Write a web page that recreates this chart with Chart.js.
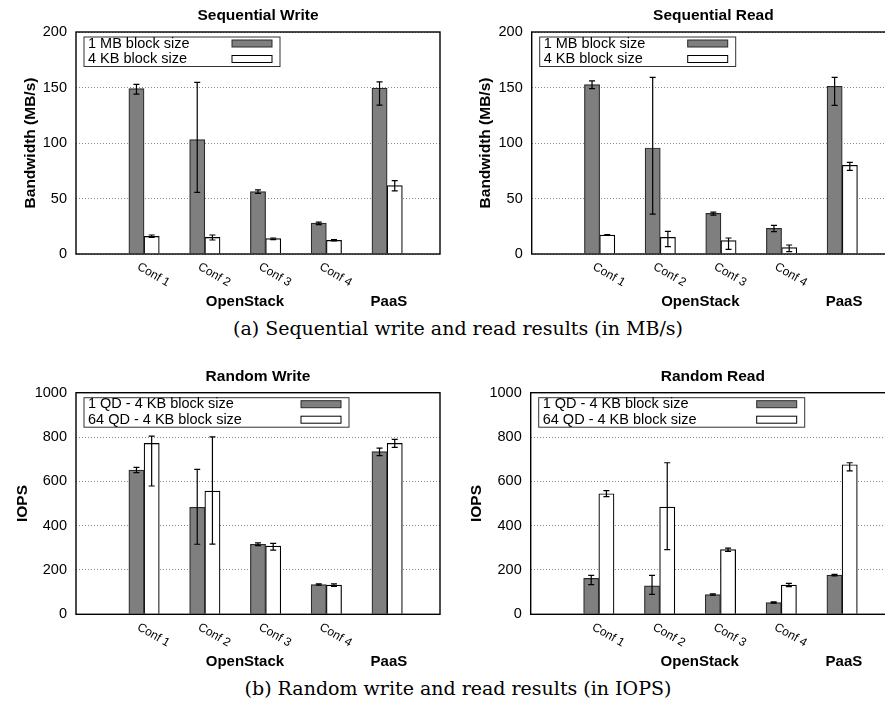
<!DOCTYPE html>
<html>
<head>
<meta charset="utf-8">
<title>Sequential and random I/O results</title>
<script src="https://cdn.jsdelivr.net/npm/chart.js@4.4.1/dist/chart.umd.min.js"></script>
<style>
    html, body { margin: 0; padding: 0; background: #fff; }
    #page { position: relative; width: 885px; height: 704px; overflow: hidden; }
    .panel { position: absolute; }
    .caption {
        position: absolute; left: 0; width: 916px; text-align: center;
        font-family: "DejaVu Serif", serif; font-size: 19px; color: #000; white-space: nowrap;
    }
</style>
</head>
<body>
<div id="page">
    <div class="panel" style="left:0;top:0"><canvas id="seq-write" width="445" height="315"></canvas></div>
    <div class="panel" style="left:445px;top:0"><canvas id="seq-read" width="460" height="315"></canvas></div>
    <div class="caption" style="top:317px">(a) Sequential write and read results (in MB/s)</div>
    <div class="panel" style="left:0;top:350px"><canvas id="rand-write" width="445" height="320"></canvas></div>
    <div class="panel" style="left:445px;top:350px"><canvas id="rand-read" width="460" height="320"></canvas></div>
    <div class="caption" style="top:677px">(b) Random write and read results (in IOPS)</div>
</div>
<script>
// Categories (x positions 0..4) and group labels under the axis
const categories = ['Conf 1', 'Conf 2', 'Conf 3', 'Conf 4', 'PaaS'];
const tickLabels = ['Conf 1', 'Conf 2', 'Conf 3', 'Conf 4'];
const groupLabels = ['OpenStack', 'PaaS'];
const groupPositions = [1.66, 4.03];

// Sequential write (MB/s)
const seqWrite1MB     = [149, 103, 56.2, 27.9, 149.5];
const seqWrite1MBLow  = [144.1, 55.6, 54.7, 26.4, 134.2];
const seqWrite1MBHigh = [152.9, 154.7, 57.7, 28.8, 155];
const seqWrite4KB     = [15.9, 15, 13.8, 12.3, 61.6];
const seqWrite4KBLow  = [15, 12.6, 12.9, 11.7, 56.8];
const seqWrite4KBHigh = [17.1, 17.1, 14.4, 12.9, 66.1];

// Sequential read (MB/s)
const seqRead1MB     = [152.6, 95.5, 36.6, 23.1, 151.1];
const seqRead1MBLow  = [148.9, 36, 35.1, 20.1, 133.9];
const seqRead1MBHigh = [155.9, 159.2, 37.8, 25.8, 159.2];
const seqRead4KB     = [17.1, 15, 12, 5.7, 79.9];
const seqRead4KBLow  = [16.7, 6.6, 4.2, 2.1, 75.4];
const seqRead4KBHigh = [17.5, 20.4, 14.4, 8.1, 82.6];

// Random write (IOPS)
const randWrite1QD      = [651, 483, 316, 134, 734];
const randWrite1QDLow   = [639, 316, 310, 131, 716];
const randWrite1QDHigh  = [663, 654, 322, 137, 750];
const randWrite64QD     = [771, 556, 308, 132, 771];
const randWrite64QDLow  = [579, 317, 290, 126, 753];
const randWrite64QDHigh = [804, 801, 320, 137, 789];

// Random read (IOPS)
const randRead1QD      = [162, 128, 89, 53, 177];
const randRead1QDLow   = [134, 90, 86, 50, 173];
const randRead1QDHigh  = [176, 176, 92, 56, 180];
const randRead64QD     = [544, 484, 292, 132, 675];
const randRead64QDLow  = [531, 292, 284, 125, 647];
const randRead64QDHigh = [558, 684, 299, 140, 684];

const mbTicks = [0, 200, 50];     // min, max, step
const iopsTicks = [0, 1000, 200];

const SANS = '"Liberation Sans", Arial, sans-serif';
Chart.defaults.font.family = SANS;
Chart.defaults.font.size = 14.5;
Chart.defaults.color = '#000';

// draws error bars, frame, titles, legend and rotated labels like gnuplot does
const decorPlugin = {
    id: 'decor',
    afterDatasetsDraw(chart) {
        const ctx = chart.ctx;
        const y = chart.scales.y;
        ctx.save();
        ctx.strokeStyle = '#000';
        ctx.lineWidth = 1.2;
        chart.data.datasets.forEach((ds, d) => {
            chart.getDatasetMeta(d).data.forEach((bar, i) => {
                const top = y.getPixelForValue(ds.errHigh[i]);
                const bot = y.getPixelForValue(ds.errLow[i]);
                ctx.beginPath();
                ctx.moveTo(bar.x, top); ctx.lineTo(bar.x, bot);
                ctx.moveTo(bar.x - 3, top); ctx.lineTo(bar.x + 3, top);
                ctx.moveTo(bar.x - 3, bot); ctx.lineTo(bar.x + 3, bot);
                ctx.stroke();
            });
        });
        ctx.restore();
    },
    afterDraw(chart, args, opts) {
        const ctx = chart.ctx;
        const a = chart.chartArea;
        const xs = chart.scales.x;
        const ys = chart.scales.y;
        ctx.save();

        // frame
        ctx.strokeStyle = '#000';
        ctx.lineWidth = 1.4;
        ctx.strokeRect(a.left, a.top, a.right - a.left, a.bottom - a.top);

        // title
        ctx.fillStyle = '#000';
        ctx.font = 'bold 15.5px ' + SANS;
        ctx.textAlign = 'center';
        ctx.textBaseline = 'middle';
        ctx.fillText(opts.title, (a.left + a.right) / 2, a.top - 16);

        // y axis title, placed left of the widest tick label
        ctx.font = '14.5px ' + SANS;
        const tickW = Math.max(...ys.ticks.map(t => ctx.measureText(String(t.value)).width));
        ctx.save();
        ctx.translate(a.left - 9 - tickW - 12.5, (a.top + a.bottom) / 2);
        ctx.rotate(-Math.PI / 2);
        ctx.font = 'bold 15.5px ' + SANS;
        ctx.fillText(opts.yTitle, 0, 0);
        ctx.restore();

        // legend box (text left, sample on the right)
        const lx = a.left + 8, ly = a.top + 5;
        ctx.lineWidth = 1;
        ctx.strokeStyle = '#333';
        ctx.strokeRect(lx, ly, opts.legendWidth, 29.5);
        ctx.font = '14.5px ' + SANS;
        ctx.textAlign = 'left';
        chart.data.datasets.forEach((ds, d) => {
            const ry = ly + 6.5 + d * 15.5;
            ctx.fillStyle = '#000';
            ctx.fillText(ds.label, lx + 4, ry);
            ctx.fillStyle = ds.backgroundColor;
            ctx.fillRect(lx + opts.legendWidth - 48, ry - 3.5, 40, 7);
            ctx.strokeStyle = ds.borderColor;
            ctx.strokeRect(lx + opts.legendWidth - 48, ry - 3.5, 40, 7);
        });

        // rotated configuration labels
        ctx.fillStyle = '#000';
        ctx.font = '12px ' + SANS;
        ctx.textBaseline = 'middle';
        tickLabels.forEach((t, i) => {
            ctx.save();
            ctx.translate(xs.getPixelForValue(i) - 6, a.bottom + 12);
            ctx.rotate(Math.PI / 6);
            ctx.fillText(t, 0, 0);
            ctx.restore();
        });

        // group labels
        ctx.font = 'bold 15px ' + SANS;
        ctx.textAlign = 'center';
        groupLabels.forEach((g, i) => {
            ctx.fillText(g, xs.getPixelForValue(groupPositions[i]), a.bottom + 47.5);
        });
        ctx.restore();
    }
};

function toPoints(values) {
    return values.map((v, i) => ({ x: i, y: v }));
}

function makeChart(id, box, title, yTitle, ticks, legendWidth, series) {
    const canvas = document.getElementById(id);
    return new Chart(canvas, {
        type: 'bar',
        data: {
            datasets: series.map((s, k) => ({
                label: s.label,
                data: toPoints(s.values),
                errLow: s.low,
                errHigh: s.high,
                backgroundColor: k === 0 ? '#7f7f7f' : '#ffffff',
                borderColor: k === 0 ? '#2a2a2a' : '#000000',
                borderWidth: 1.2,
                barThickness: 15.2
            }))
        },
        options: {
            responsive: false,
            animation: false,
            layout: {
                padding: {
                    left: 0,
                    top: box.top,
                    right: canvas.width - box.right,
                    bottom: canvas.height - box.bottom
                }
            },
            plugins: {
                legend: { display: false },
                tooltip: { enabled: false },
                decor: { title: title, yTitle: yTitle, legendWidth: legendWidth }
            },
            scales: {
                x: {
                    type: 'linear',
                    display: false,
                    offset: false,
                    min: -1.12,
                    max: 4.87,
                    ticks: { stepSize: 1, includeBounds: false }
                },
                y: {
                    min: ticks[0],
                    max: ticks[1],
                    afterFit: s => { s.width = box.left; },
                    ticks: { stepSize: ticks[2], padding: 9, color: '#000', callback: v => String(v) },
                    grid: { color: '#8a8a8a', lineWidth: 1, drawTicks: false },
                    border: { display: false, dash: [1, 2] }
                }
            }
        },
        plugins: [decorPlugin]
    });
}

makeChart('seq-write', { left: 76, top: 32, right: 440, bottom: 254 },
    'Sequential Write', 'Bandwidth (MB/s)', mbTicks, 196, [
        { label: '1 MB block size', values: seqWrite1MB, low: seqWrite1MBLow, high: seqWrite1MBHigh },
        { label: '4 KB block size', values: seqWrite4KB, low: seqWrite4KBLow, high: seqWrite4KBHigh }
    ]);

makeChart('seq-read', { left: 86.7, top: 32, right: 450, bottom: 254 },
    'Sequential Read', 'Bandwidth (MB/s)', mbTicks, 196, [
        { label: '1 MB block size', values: seqRead1MB, low: seqRead1MBLow, high: seqRead1MBHigh },
        { label: '4 KB block size', values: seqRead4KB, low: seqRead4KBLow, high: seqRead4KBHigh }
    ]);

makeChart('rand-write', { left: 76, top: 42.7, right: 440, bottom: 264.3 },
    'Random Write', 'IOPS', iopsTicks, 265, [
        { label: '1 QD - 4 KB block size', values: randWrite1QD, low: randWrite1QDLow, high: randWrite1QDHigh },
        { label: '64 QD - 4 KB block size', values: randWrite64QD, low: randWrite64QDLow, high: randWrite64QDHigh }
    ]);

makeChart('rand-read', { left: 85.7, top: 42.7, right: 450, bottom: 264.3 },
    'Random Read', 'IOPS', iopsTicks, 266, [
        { label: '1 QD - 4 KB block size', values: randRead1QD, low: randRead1QDLow, high: randRead1QDHigh },
        { label: '64 QD - 4 KB block size', values: randRead64QD, low: randRead64QDLow, high: randRead64QDHigh }
    ]);
</script>
</body>
</html>
